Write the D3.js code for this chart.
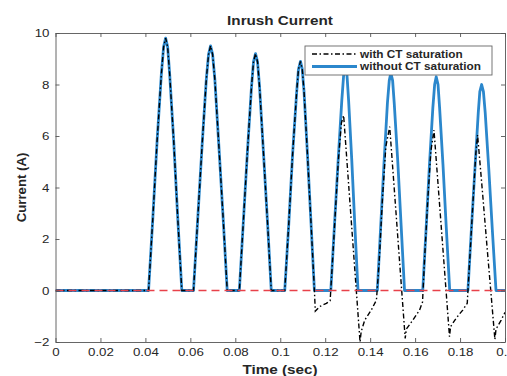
<!DOCTYPE html>
<html>
<head>
<meta charset="utf-8">
<script src="https://cdn.jsdelivr.net/npm/d3@7"></script>
<style>
body { margin: 0; background: #fff; }
svg text { font-family: "Liberation Sans", Arial, Helvetica, sans-serif; fill: #262626; }
</style>
</head>
<body>
<div id="main"><svg width="507" height="376"></svg></div>
<script>
// ---- data ----
var xTicks = [0, 0.02, 0.04, 0.06, 0.08, 0.1, 0.12, 0.14, 0.16, 0.18, 0.2];
var xTickLabels = ['0', '0.02', '0.04', '0.06', '0.08', '0.1', '0.12', '0.14', '0.16', '0.18', '0.2'];
var yTicks = [-2, 0, 2, 4, 6, 8, 10];

// [time (s), current (A)]
var withoutCT = [
  [0, 0], [0.0414, 0],
  [0.0433, 2.8], [0.0452, 5.8], [0.0471, 8.4], [0.0481, 9.46], [0.049, 9.8], [0.0499, 9.46], [0.0508, 8.4], [0.0526, 5.8], [0.0544, 2.8], [0.0562, 0],
  [0.0614, 0], [0.0633, 2.8], [0.0652, 5.6], [0.0671, 8.2], [0.0681, 9.17], [0.069, 9.5], [0.0699, 9.17], [0.0709, 8.2], [0.0727, 5.6], [0.0746, 2.8], [0.0764, 0],
  [0.0818, 0], [0.0836, 2.7], [0.0854, 5.4], [0.0872, 7.9], [0.0881, 8.88], [0.089, 9.2], [0.0899, 8.88], [0.0908, 7.9], [0.0925, 5.4], [0.0943, 2.7], [0.096, 0],
  [0.102, 0], [0.1038, 2.6], [0.1055, 5.3], [0.1073, 7.7], [0.1081, 8.59], [0.109, 8.9], [0.1098, 8.59], [0.1106, 7.7], [0.1121, 5.3], [0.1137, 2.6], [0.1152, 0],
  [0.1225, 0], [0.1241, 2.5], [0.1258, 5.1], [0.1274, 7.4], [0.1282, 8.35], [0.129, 8.65], [0.1297, 8.35], [0.1304, 7.4], [0.1318, 5.1], [0.1332, 2.5], [0.1346, 0],
  [0.1432, 0], [0.1447, 2.5], [0.1462, 5.0], [0.1477, 7.3], [0.1485, 8.15], [0.1492, 8.45], [0.15, 8.15], [0.1507, 7.3], [0.1523, 5.0], [0.1538, 2.5], [0.1553, 0],
  [0.1634, 0], [0.1649, 2.4], [0.1664, 4.9], [0.1679, 7.1], [0.1687, 8.0], [0.1694, 8.3], [0.1702, 8.0], [0.1709, 7.1], [0.1724, 4.9], [0.1739, 2.4], [0.1754, 0],
  [0.1835, 0], [0.185, 2.3], [0.1866, 4.7], [0.1881, 6.9], [0.1888, 7.72], [0.1896, 8.0], [0.1904, 7.72], [0.1912, 6.9], [0.1928, 4.7], [0.1944, 2.3], [0.196, 0],
  [0.2, 0]
];

var withCT = [
  [0, 0], [0.0414, 0],
  [0.0433, 2.8], [0.0452, 5.8], [0.0471, 8.4], [0.0481, 9.46], [0.049, 9.8], [0.0499, 9.46], [0.0508, 8.4], [0.0526, 5.8], [0.0544, 2.8], [0.0562, 0],
  [0.0614, 0], [0.0633, 2.8], [0.0652, 5.6], [0.0671, 8.2], [0.0681, 9.17], [0.069, 9.5], [0.0699, 9.17], [0.0709, 8.2], [0.0727, 5.6], [0.0746, 2.8], [0.0764, 0],
  [0.0818, 0], [0.0836, 2.7], [0.0854, 5.4], [0.0872, 7.9], [0.0881, 8.88], [0.089, 9.2], [0.0899, 8.88], [0.0908, 7.9], [0.0925, 5.4], [0.0943, 2.7], [0.096, 0],
  [0.102, 0], [0.1038, 2.6], [0.1055, 5.3], [0.1073, 7.7], [0.1081, 8.59], [0.109, 8.9], [0.1098, 8.59], [0.1106, 7.7], [0.1121, 5.3], [0.1137, 2.6], [0.1152, 0],
  [0.1156, -0.8], [0.1176, -0.62], [0.1205, -0.5], [0.1222, -0.4],
  [0.1241, 2.4], [0.1258, 5.0], [0.1272, 6.5], [0.1282, 6.8], [0.13, 4.63], [0.132, 2.22], [0.134, -0.19], [0.1355, -2.0],
  [0.136, -1.6], [0.1376, -1.15], [0.1405, -0.76], [0.1428, -0.37],
  [0.144, 1.1], [0.1455, 3.6], [0.147, 5.6], [0.1487, 6.36], [0.1505, 4.22], [0.1525, 1.83], [0.1545, -0.55], [0.1556, -1.86],
  [0.1561, -1.5], [0.159, -1.15], [0.162, -0.76], [0.1633, -0.45],
  [0.1642, 1.2], [0.1657, 3.6], [0.167, 5.4], [0.1684, 6.23], [0.17, 4.37], [0.172, 2.05], [0.174, -0.27], [0.1753, -1.79],
  [0.1758, -1.4], [0.1783, -1.07], [0.1812, -0.76], [0.1832, -0.5],
  [0.1843, 1.2], [0.1858, 3.5], [0.187, 5.3], [0.1878, 6.04], [0.19, 3.8], [0.192, 1.7], [0.194, -0.35], [0.1955, -1.9],
  [0.196, -1.5], [0.1983, -1.15], [0.2, -0.85]
];

var refTime = [0, 0.2];
var refCurrent = [0, 0];

var legendLabels = ['with CT saturation', 'without CT saturation'];

// ---- layout ----
var svg = d3.select('#main svg');
var X0 = 55.5, X1 = 505, Y0 = 342, Y1 = 33;
var STRETCH = 1.155;  // picture is a bit wider than tall

var x = d3.scaleLinear().domain([0, 0.2]).range([X0, X1]);
var y = d3.scaleLinear().domain([-2, 10]).range([Y0, Y1]);

svg.append('rect').attr('width', 507).attr('height', 376).attr('fill', '#fff');

svg.append('clipPath').attr('id', 'plotclip')
  .append('rect')
  .attr('x', X0).attr('y', Y1 - 2)
  .attr('width', X1 - X0).attr('height', Y0 - Y1 + 4);

var line = d3.line()
  .x(function(d) { return x(d[0]); })
  .y(function(d) { return y(d[1]); });

var plot = svg.append('g').attr('clip-path', 'url(#plotclip)');

plot.append('path')
  .datum(withoutCT)
  .attr('fill', 'none')
  .attr('stroke', '#2b87cc')
  .attr('stroke-width', 2.8)
  .attr('stroke-linejoin', 'round')
  .attr('d', line);

plot.append('path')
  .datum(withCT)
  .attr('fill', 'none')
  .attr('stroke', '#000')
  .attr('stroke-width', 1.4)
  .attr('stroke-dasharray', '5,2.5,1.5,2.5')
  .attr('d', line);

plot.append('path')
  .datum(refTime.map(function(t, i) { return [t, refCurrent[i]]; }))
  .attr('fill', 'none')
  .attr('stroke', '#e8414a')
  .attr('stroke-width', 1.6)
  .attr('stroke-dasharray', '8,5')
  .attr('d', line);

// ---- axes (MATLAB style box, inward ticks) ----
function styleAxis(g) {
  g.selectAll('path.domain').attr('stroke', '#555').attr('stroke-width', 0.9);
  g.selectAll('.tick line').attr('stroke', '#555').attr('stroke-width', 0.9);
  g.selectAll('.tick text').attr('class', 'stretch').style('font-size', '11.5px').attr('fill', '#333');
}

svg.append('g')
  .attr('transform', 'translate(0,' + Y0 + ')')
  .call(d3.axisBottom(x).tickValues(xTicks).tickFormat(function(d, i) { return xTickLabels[i]; })
    .tickSize(-4).tickSizeOuter(0).tickPadding(6))
  .call(styleAxis);

svg.append('g')
  .attr('transform', 'translate(0,' + Y1 + ')')
  .call(d3.axisTop(x).tickValues(xTicks).tickFormat('').tickSize(-4).tickSizeOuter(0))
  .call(styleAxis);

svg.append('g')
  .attr('transform', 'translate(' + X0 + ',0)')
  .call(d3.axisLeft(y).tickValues(yTicks).tickSize(-4).tickSizeOuter(0).tickPadding(6))
  .call(styleAxis);

svg.append('g')
  .attr('transform', 'translate(' + X1 + ',0)')
  .call(d3.axisRight(y).tickValues(yTicks).tickFormat('').tickSize(-4).tickSizeOuter(0))
  .call(styleAxis);

svg.selectAll('g text').attr('font-family', null);

// ---- titles ----
svg.append('text')
  .attr('class', 'stretch')
  .attr('x', 280).attr('y', 25)
  .attr('text-anchor', 'middle')
  .style('font-size', '13.2px').style('font-weight', 'bold')
  .text('Inrush Current');

svg.append('text')
  .attr('class', 'stretch')
  .attr('x', 280).attr('y', 374)
  .attr('text-anchor', 'middle')
  .style('font-size', '13.2px').style('font-weight', 'bold')
  .text('Time (sec)');

svg.append('text')
  .attr('transform', 'translate(26,' + ((Y0 + Y1) / 2) + ') rotate(-90)')
  .attr('text-anchor', 'middle')
  .style('font-size', '13.2px').style('font-weight', 'bold')
  .text('Current (A)');

// ---- legend ----
var legend = svg.append('g');
legend.append('rect')
  .attr('x', 305).attr('y', 46)
  .attr('width', 187).attr('height', 29)
  .attr('fill', '#fff')
  .attr('stroke', '#666').attr('stroke-width', 0.9);

var legendStyles = [
  {stroke: '#000', width: 1.4, dash: '5,2.5,1.5,2.5'},
  {stroke: '#2b87cc', width: 2.8, dash: null}
];

legendLabels.forEach(function(lbl, i) {
  var ly = 54 + i * 12.5;
  legend.append('line')
    .attr('x1', 312).attr('x2', 357)
    .attr('y1', ly).attr('y2', ly)
    .attr('stroke', legendStyles[i].stroke)
    .attr('stroke-width', legendStyles[i].width)
    .attr('stroke-dasharray', legendStyles[i].dash);
  legend.append('text')
    .attr('class', 'stretch')
    .attr('x', 360).attr('y', ly + 3.7)
    .style('font-size', '10.2px').style('font-weight', 'bold')
    .text(lbl);
});

// stretch the text horizontally like the picture
svg.selectAll('text.stretch').each(function() {
  var w = this.getComputedTextLength();
  if (w > 0) {
    d3.select(this)
      .attr('textLength', w * STRETCH)
      .attr('lengthAdjust', 'spacingAndGlyphs');
  }
});
</script>
</body>
</html>
